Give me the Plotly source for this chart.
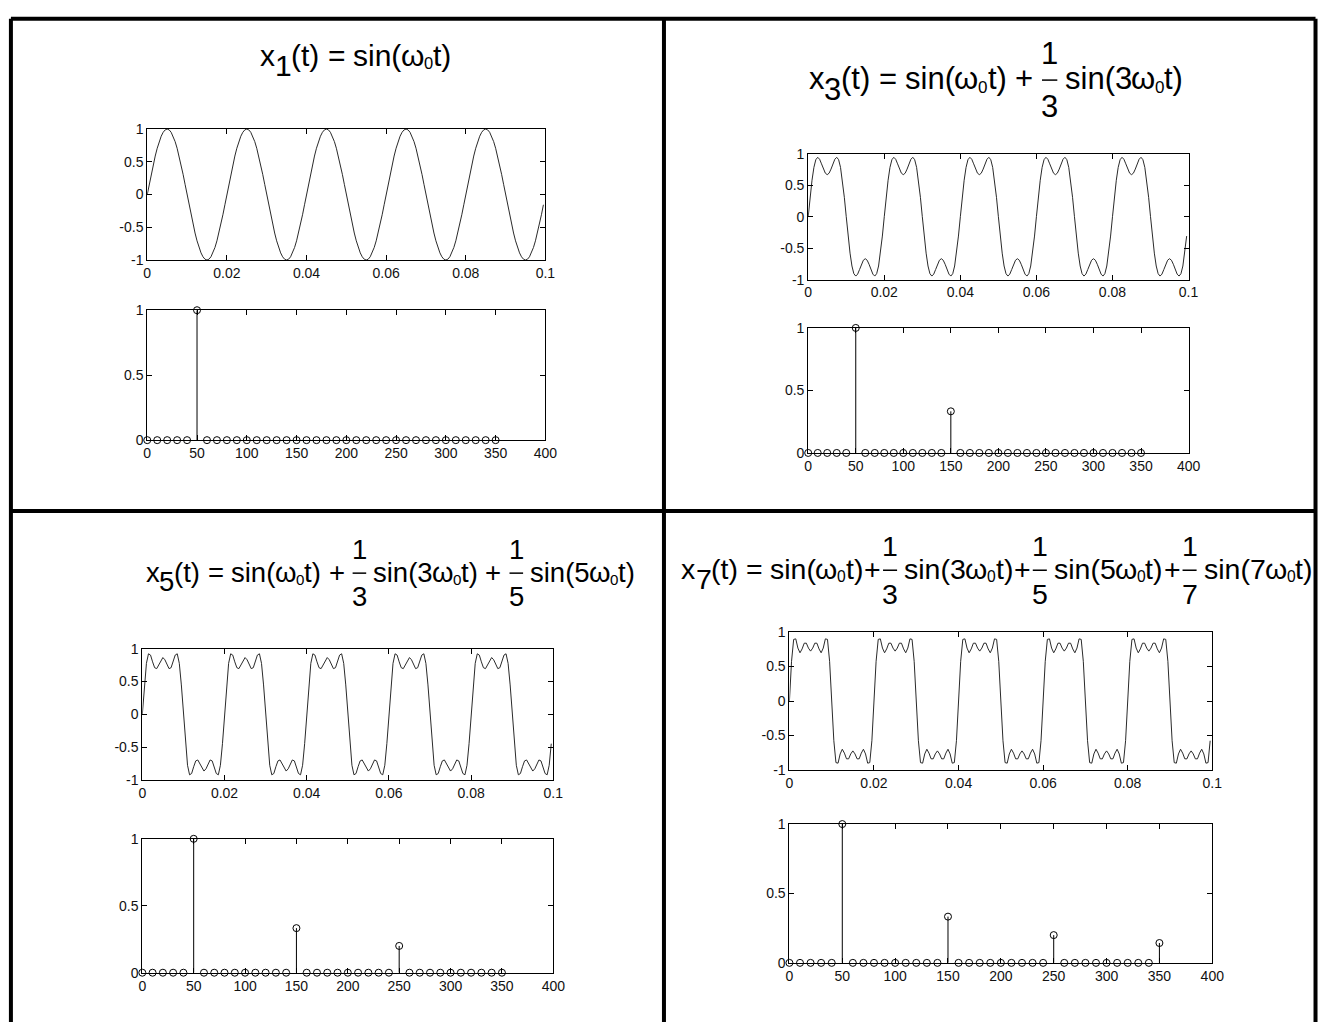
import math
import plotly.graph_objects as go

W, H = 1329, 1025
FONT = "Arial, 'Liberation Sans', sans-serif"

# ---- data -------------------------------------------------------------
# frequency bins of the line spectrum (Hz)
bins_hz = [0, 10, 20, 30, 40, 50, 60, 70, 80, 90, 100, 110, 120, 130, 140, 150,
           160, 170, 180, 190, 200, 210, 220, 230, 240, 250, 260, 270, 280, 290,
           300, 310, 320, 330, 340, 350]
# odd harmonics of the 50 Hz fundamental and their amplitudes
harm_hz = [50, 150, 250, 350]
amp_x1 = [1.0]
amp_x3 = [1.0, 0.333]
amp_x5 = [1.0, 0.333, 0.2]
amp_x7 = [1.0, 0.333, 0.2, 0.143]

# sampling of the time axis (s)
dt = 0.0005
n_samples = 200

# tick positions / labels
time_ticks = [0, 0.02, 0.04, 0.06, 0.08, 0.1]
time_labels = ["0", "0.02", "0.04", "0.06", "0.08", "0.1"]
amp_ticks = [-1, -0.5, 0, 0.5, 1]
amp_labels = ["-1", "-0.5", "0", "0.5", "1"]
freq_ticks = [0, 50, 100, 150, 200, 250, 300, 350, 400]
freq_labels = ["0", "50", "100", "150", "200", "250", "300", "350", "400"]
mag_ticks = [0, 0.5, 1]
mag_labels = ["0", "0.5", "1"]


def spectrum(amps):
    table = dict(zip(harm_hz, amps))
    return [table.get(f, 0.0) for f in bins_hz]


def waveform(amps):
    t = [k * dt for k in range(n_samples)]
    y = [sum(a * math.sin(2 * math.pi * f * tk) for f, a in zip(harm_hz, amps)) for tk in t]
    return t, y


# ---- layout helpers ---------------------------------------------------
def px_x(x):
    return x / W


def px_y(y):
    return 1 - y / H


# panel boxes in pixels: (left, right, time_top, time_bottom, spec_top, spec_bottom)
panels = [
    dict(amps=amp_x1, box=(145, 548, 123, 256, 307, 439)),
    dict(amps=amp_x3, box=(814, 1199, 148, 276, 325, 452)),
    dict(amps=amp_x5, box=(140, 556, 651, 784, 844, 980)),
    dict(amps=amp_x7, box=(795, 1223, 634, 774, 829, 970)),
]

fig = go.Figure()
layout = dict(
    width=W, height=H, margin=dict(l=0, r=0, t=0, b=0),
    paper_bgcolor="white", plot_bgcolor="white", showlegend=False,
)

axis_common = dict(
    showline=True, linecolor="black", linewidth=1, mirror="ticks",
    ticks="inside", ticklen=5, tickcolor="black", tickwidth=1,
    showgrid=False, zeroline=False, fixedrange=True,
    tickfont=dict(family=FONT, size=14, color="#111"),
)

ax = 0
for p in panels:
    l, r, tt, tb, st, sb = p["box"]
    # time-domain axes
    ax += 1
    xa, ya = f"x{ax}", f"y{ax}"
    t, y = waveform(p["amps"])
    fig.add_trace(go.Scatter(x=t, y=y, mode="lines", xaxis=xa, yaxis=ya,
                             line=dict(color="#2a2a2a", width=1)))
    layout[f"xaxis{ax}"] = dict(axis_common, domain=[px_x(l), px_x(r)], anchor=ya,
                                range=[0, 0.1], tickvals=time_ticks, ticktext=time_labels)
    layout[f"yaxis{ax}"] = dict(axis_common, domain=[px_y(tb), px_y(tt)], anchor=xa,
                                range=[-1, 1], tickvals=amp_ticks, ticktext=amp_labels)
    # line-spectrum axes
    ax += 1
    xa, ya = f"x{ax}", f"y{ax}"
    mags = spectrum(p["amps"])
    sx, sy = [], []
    for f, m in zip(bins_hz, mags):
        sx += [f, f, None]
        sy += [0, m, None]
    fig.add_trace(go.Scatter(x=sx, y=sy, mode="lines", xaxis=xa, yaxis=ya,
                             line=dict(color="black", width=1)))
    fig.add_trace(go.Scatter(x=bins_hz, y=mags, mode="markers", xaxis=xa, yaxis=ya,
                             cliponaxis=False,
                             marker=dict(symbol="circle-open", size=7, color="black",
                                         line=dict(width=1, color="black"))))
    layout[f"xaxis{ax}"] = dict(axis_common, domain=[px_x(l), px_x(r)], anchor=ya,
                                range=[0, 400], tickvals=freq_ticks, ticktext=freq_labels)
    layout[f"yaxis{ax}"] = dict(axis_common, domain=[px_y(sb), px_y(st)], anchor=xa,
                                range=[0, 1], tickvals=mag_ticks, ticktext=mag_labels)

# ---- equation titles ----------------------------------------------------
ADV = {' ': 278, '(': 333, ')': 333, '+': 584, '=': 584, 's': 500, 'i': 222,
       'n': 556, 't': 278, 'x': 500, 'ω': 781}
for d in "0123456789":
    ADV[d] = 556


def sin_term(k):
    return [("sin(" + k, 1, 0), ("ω", 1, 0), ("0", 0.55, 0.27), ("t)", 1, 0)]


def head(n):
    return [("x", 1, 0), (n, 1, 0.36), ("(t) = ", 1, 0)]


annotations = []
shapes = []


def put_title(tokens, size, cx, cy):
    placed = []
    pos = 0.0
    for tok in tokens:
        if tok[0] == "frac":
            w = 0.62 * size
            placed.append(("frac", tok[1], tok[2], pos, w))
            pos += w
        elif tok[0] == "gap":
            pos += tok[1] * size
        else:
            s, scale, dy = tok
            fs = size * scale
            # split into runs without spaces so each run starts exactly at its offset
            run, run_pos = "", pos
            for ch in s:
                adv = ADV.get(ch, 556) / 1000 * fs
                if ch == " ":
                    if run:
                        placed.append(("txt", run, fs, dy * size, run_pos))
                        run = ""
                    pos += adv
                    run_pos = pos
                else:
                    if not run:
                        run_pos = pos
                    run += ch
                    pos += adv
            if run:
                placed.append(("txt", run, fs, dy * size, run_pos))
    x0 = cx - pos / 2
    for item in placed:
        if item[0] == "txt":
            _, s, fs, dyp, p0 = item
            annotations.append(dict(
                text=s, x=px_x(x0 + p0), y=px_y(cy + dyp), xref="paper", yref="paper",
                xanchor="left", yanchor="middle", showarrow=False, borderpad=0,
                font=dict(family=FONT, size=fs, color="black")))
        else:
            _, num, den, p0, w = item
            c = x0 + p0 + w / 2
            bar_y = cy + 0.04 * size
            for txt, yy in ((num, bar_y - 0.86 * size), (den, bar_y + 0.86 * size)):
                annotations.append(dict(
                    text=txt, x=px_x(c), y=px_y(yy), xref="paper", yref="paper",
                    xanchor="center", yanchor="middle", showarrow=False, borderpad=0,
                    font=dict(family=FONT, size=size, color="black")))
            shapes.append(dict(type="line", xref="paper", yref="paper",
                               x0=px_x(x0 + p0 + 0.06 * size), x1=px_x(x0 + p0 + w - 0.06 * size),
                               y0=px_y(bar_y), y1=px_y(bar_y),
                               line=dict(color="black", width=1.5)))


plus = [(" + ", 1, 0)]
plus_tight = [("gap", 0.05), ("+", 1, 0), ("gap", 0.05)]
small_gap = [("gap", 0.15)]
put_title(head("1") + sin_term(""), 30, 355, 48)
put_title(head("3") + sin_term("") + plus + [("frac", "1", "3")] + small_gap + sin_term("3"),
          31, 1003, 72)
put_title(head("5") + sin_term("") + plus + [("frac", "1", "3")] + small_gap + sin_term("3") + plus
          + [("frac", "1", "5")] + small_gap + sin_term("5"), 27.5, 390, 573)
put_title(head("7") + sin_term("") + plus_tight + [("frac", "1", "3")] + small_gap
          + sin_term("3") + plus_tight + [("frac", "1", "5")] + small_gap + sin_term("5")
          + plus_tight + [("frac", "1", "7")] + small_gap + sin_term("7"), 28.5, 1004, 570)

# ---- panel frame --------------------------------------------------------
frame = [
    (7, 11, 7, 1030),        # left edge
    (7, 11, 1327.5, 11),     # top edge
    (1327.5, 11, 1327.5, 1030),
    (668, 11, 668, 1030),    # centre vertical
    (7, 511, 1327.5, 511),   # centre horizontal
]
for x0, y0, x1, y1 in frame:
    shapes.append(dict(type="line", xref="paper", yref="paper",
                       x0=px_x(x0), y0=px_y(y0), x1=px_x(x1), y1=px_y(y1),
                       line=dict(color="black", width=4)))

layout["annotations"] = annotations
layout["shapes"] = shapes
fig.update_layout(**layout)
fig.write_html(
    "out.html",
    post_script="document.body.style.margin='0';document.documentElement.style.overflow='hidden';",
)
